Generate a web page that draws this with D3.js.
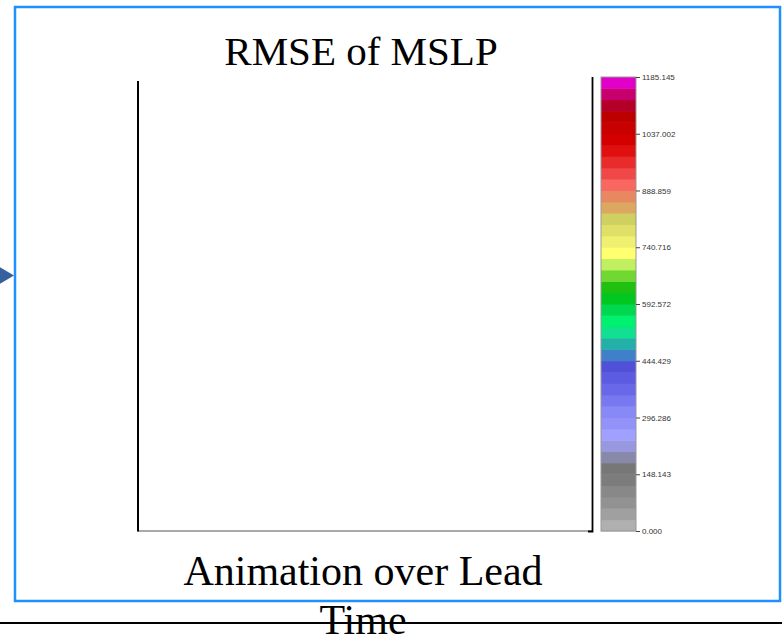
<!DOCTYPE html>
<html>
<head>
<meta charset="utf-8">
<script src="https://cdnjs.cloudflare.com/ajax/libs/d3/7.8.5/d3.min.js"></script>
<style>
  html, body { margin: 0; padding: 0; background: #fff; }
  svg { display: block; }
</style>
</head>
<body>
<div id="chart"></div>
<script>
// colour bands of the scale, bottom (0) to top (max)
const bandColors = [
  "#b0b0b0", "#a0a0a0", "#929292", "#888888", "#7c7c7c", "#777777",
  "#8888a8", "#9898e0", "#a0a0ff", "#9292f8", "#8888f6", "#7878f0",
  "#6868e8", "#5c5ce2", "#5050d8", "#4080c8", "#22b0a8", "#10e090",
  "#00f070", "#00d850", "#00c820", "#20c010", "#70d830", "#c0f060",
  "#ffff70", "#f0f070", "#e0e068", "#d0d060", "#dca860", "#e88860",
  "#f86860", "#f04848", "#e82c2c", "#e01010", "#d40000", "#c80000",
  "#bc0000", "#b40028", "#c8006e", "#e000c8"
];
const scaleMax = 1185.145;
const tickLabels = ["0.000", "148.143", "296.286", "444.429", "592.572",
                    "740.716", "888.859", "1037.002", "1185.145"];
const titleText = "RMSE of MSLP";
const xLabelLines = ["Animation over Lead", "Time"];

const W = 782, H = 635;

let svg = d3.select("#chart").append("svg")
    .attr("width", W)
    .attr("height", H);

// outer blue frame
svg.append("rect")
    .attr("x", 15)
    .attr("y", 7)
    .attr("width", 765)
    .attr("height", 594)
    .attr("fill", "none")
    .attr("stroke", "#1e90ff")
    .attr("stroke-width", 2.5);

// little arrow at the left edge
svg.append("path")
    .attr("d", d3.line()([[-4, 265], [14, 275.5], [-4, 286]]) + "Z")
    .attr("fill", "#36609e");

// plot area (empty frame)
let x = d3.scaleLinear().domain([0, 1]).range([138, 592]);
let yPlot = d3.scaleLinear().domain([0, 1]).range([531, 80]);

svg.append("line")
    .attr("x1", x(0)).attr("x2", x(1))
    .attr("y1", yPlot(0)).attr("y2", yPlot(0))
    .attr("stroke", "#555").attr("stroke-width", 1.2);

svg.append("line")
    .attr("x1", x(0)).attr("x2", x(0))
    .attr("y1", yPlot(0) + 0.5).attr("y2", 81)
    .attr("stroke", "#000").attr("stroke-width", 2);

svg.append("path")
    .attr("d", d3.line()([[x(1) - 4, 531.5], [x(1) + 0.5, 531.5], [x(1) + 0.5, 77]]))
    .attr("fill", "none")
    .attr("stroke", "#000").attr("stroke-width", 1.8);

// colour bar
let yBar = d3.scaleLinear().domain([0, scaleMax]).range([531, 77]);
let step = scaleMax / bandColors.length;

let bar = svg.append("g");
bar.selectAll("rect")
    .data(bandColors)
    .enter()
    .append("rect")
      .attr("x", 601)
      .attr("width", 35)
      .attr("y", (d, i) => yBar((i + 1) * step))
      .attr("height", (d, i) => yBar(i * step) - yBar((i + 1) * step) + 0.5)
      .attr("fill", d => d);

bar.append("rect")
    .attr("x", 601)
    .attr("y", yBar(scaleMax))
    .attr("width", 35)
    .attr("height", yBar(0) - yBar(scaleMax))
    .attr("fill", "none")
    .attr("stroke", "#999")
    .attr("stroke-width", 1);

let barAxis = d3.axisRight(yBar)
    .tickValues(tickLabels.map(Number))
    .tickFormat((d, i) => tickLabels[i])
    .tickSize(4)
    .tickPadding(2);

let axisG = svg.append("g")
    .attr("transform", "translate(636,0)")
    .call(barAxis);
axisG.select(".domain").remove();
axisG.selectAll(".tick line").attr("stroke", "#444");
axisG.selectAll(".tick text")
    .style("font-family", "'Liberation Sans', Arial, sans-serif")
    .style("font-size", "8px")
    .attr("fill", "#333");

// title
svg.append("text")
    .attr("x", 361)
    .attr("y", 65)
    .attr("text-anchor", "middle")
    .style("font-family", "'Liberation Serif', 'Times New Roman', serif")
    .style("font-size", "41px")
    .attr("fill", "#000")
    .text(titleText);

// bottom rule that the wrapped label runs over
svg.append("line")
    .attr("x1", 0).attr("x2", W)
    .attr("y1", 623).attr("y2", 623)
    .attr("stroke", "#000").attr("stroke-width", 2);

// x label, wrapped on two lines
svg.append("g").selectAll("text")
    .data(xLabelLines)
    .enter()
    .append("text")
      .attr("x", 363)
      .attr("y", (d, i) => 585 + i * 49)
      .attr("text-anchor", "middle")
      .style("font-family", "'Liberation Serif', 'Times New Roman', serif")
      .style("font-size", "42px")
      .attr("fill", "#000")
      .text(d => d);
</script>
</body>
</html>
